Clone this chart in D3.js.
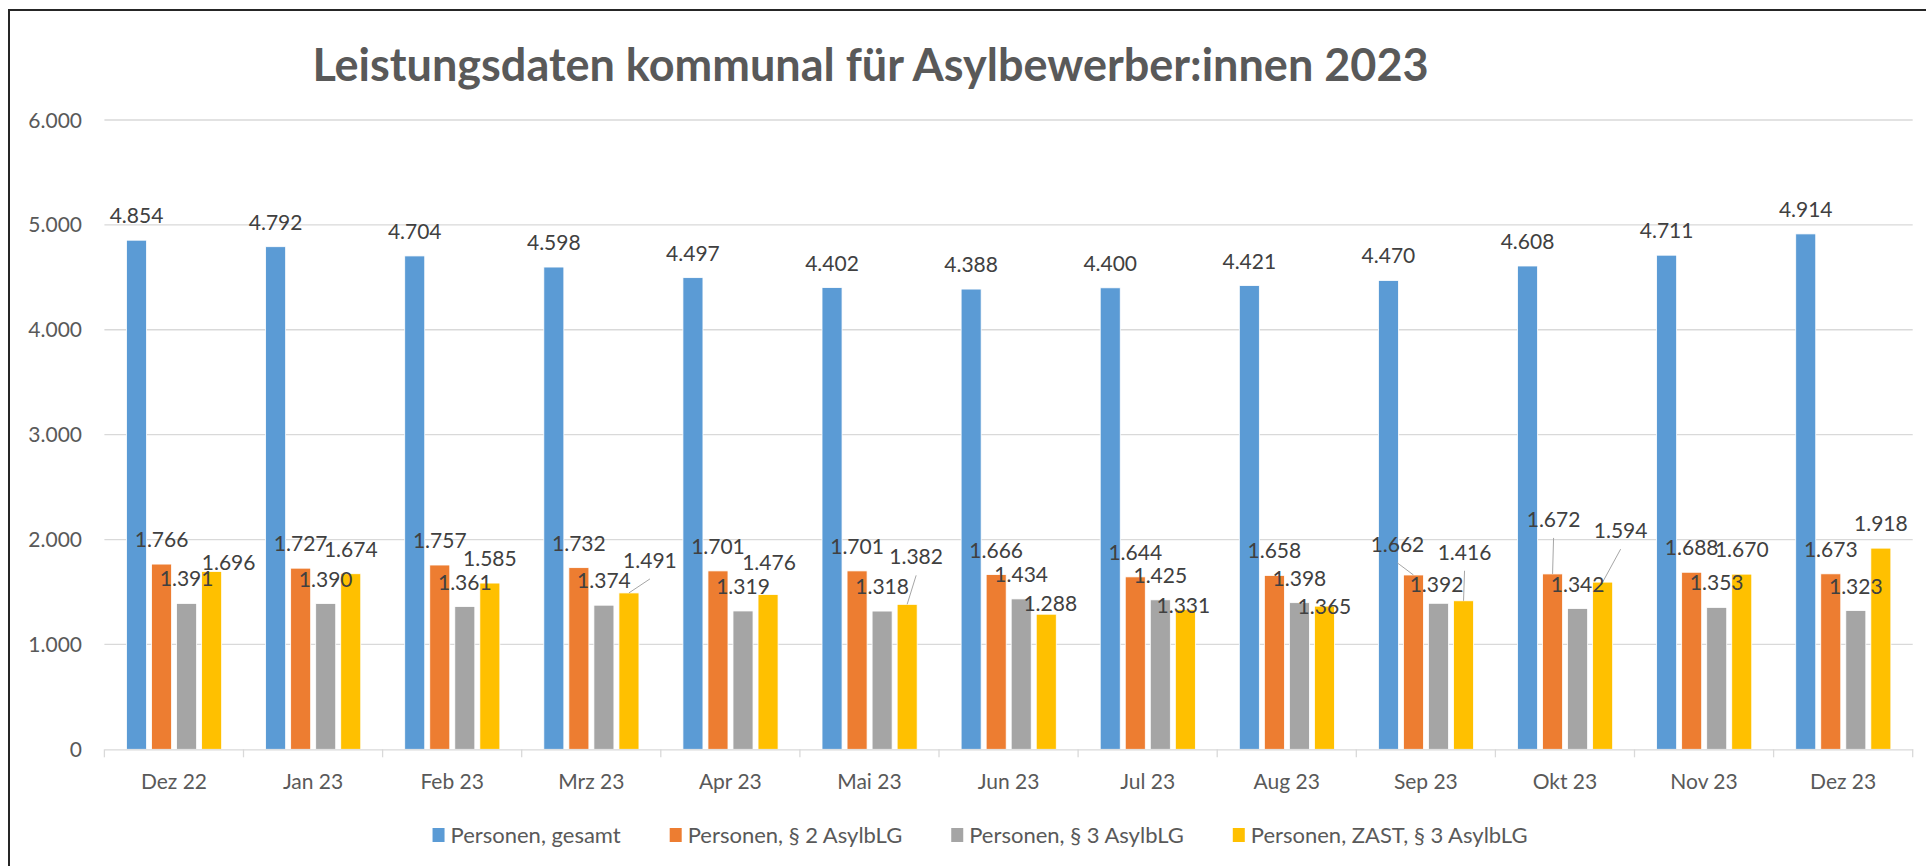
<!DOCTYPE html>
<html lang="de">
	<head>
		<meta charset="utf-8">
		<title>Leistungsdaten kommunal für Asylbewerber:innen 2023</title>
		<style>
		body {
			margin: 0;
			background: #fff;
		}
		svg text {
			font-family: Lato, "Open Sans", sans-serif;
		}
		.grid line {
			stroke: #d9d9d9;
			stroke-width: 1.3px;
		}
		.lbl {
			fill: #404040;
			font-size: 21px;
		}
		.axis-lbl {
			fill: #595959;
			font-size: 21px;
		}
		.leader {
			stroke: #a6a6a6;
			stroke-width: 1px;
		}
		</style>
	</head>
	<body>
		<svg id="chart" width="1926" height="866"></svg>
		<script src="https://d3js.org/d3.v7.min.js"></script>
		<script>

		// data
		var months = ["Dez 22", "Jan 23", "Feb 23", "Mrz 23", "Apr 23", "Mai 23", "Jun 23", "Jul 23", "Aug 23", "Sep 23", "Okt 23", "Nov 23", "Dez 23"];
		var seriesNames = ["Personen, gesamt", "Personen, § 2 AsylbLG", "Personen, § 3 AsylbLG", "Personen, ZAST, § 3 AsylbLG"];
		var gesamt = [4854, 4792, 4704, 4598, 4497, 4402, 4388, 4400, 4421, 4470, 4608, 4711, 4914];
		var par2 = [1766, 1727, 1757, 1732, 1701, 1701, 1666, 1644, 1658, 1662, 1672, 1688, 1673];
		var par3 = [1391, 1390, 1361, 1374, 1319, 1318, 1434, 1425, 1398, 1392, 1342, 1353, 1323];
		var zast = [1696, 1674, 1585, 1491, 1476, 1382, 1288, 1331, 1365, 1416, 1594, 1670, 1918];
		var yTicks = [0, 1000, 2000, 3000, 4000, 5000, 6000];

		var colors = ["#5b9bd5", "#ed7d31", "#a5a5a5", "#ffc000"];

		// labels that were dragged away from their default place (series, month, dx, dy, leader)
		var labelShift = [
			[3, 0, 17, 16, false],
			[3, 3, 21, -8, true],
			[3, 4, 1, -7, false],
			[3, 5, 9, -23, true],
			[3, 6, 4, 14, false],
			[3, 7, -2, 20, false],
			[3, 8, 0, 25, false],
			[1, 9, -16, -6, true],
			[2, 9, -2, 6, false],
			[3, 9, 1, -24, true],
			[1, 10, 1, -30, true],
			[3, 10, 18, -27, true]
		];

		var allSeries = [gesamt, par2, par3, zast];

		var svg = d3.select("#chart");

		var de = d3.formatLocale({decimal: ",", thousands: ".", grouping: [3], currency: ["", " €"]});
		var fmt = de.format(",d");

		var x0 = d3.scaleBand()
			.domain(months)
			.range([104.4, 1912.7])
			.padding(0);

		var bw = x0.bandwidth();
		var x1 = d3.scaleBand()
			.domain(d3.range(seriesNames.length))
			.range([bw * 0.159, bw * 0.843])
			.paddingInner(0.2)
			.paddingOuter(0);

		var y = d3.scaleLinear()
			.domain([0, 6000])
			.range([749.3, 120]);

		// outer frame
		svg.append("rect")
			.attr("x", 9).attr("y", 10)
			.attr("width", 1940).attr("height", 900)
			.attr("fill", "none")
			.attr("stroke", "#262626")
			.attr("stroke-width", 2);

		// title
		svg.append("text")
			.attr("x", 870.5)
			.attr("y", 81)
			.attr("text-anchor", "middle")
			.attr("fill", "#595959")
			.style("font-size", "45px")
			.style("font-weight", "bold")
			.text("Leistungsdaten kommunal für Asylbewerber:innen 2023");

		// gridlines
		svg.append("g")
			.attr("class", "grid")
			.selectAll("line")
			.data(yTicks.filter(function(t) { return t > 0; }))
			.enter().append("line")
			.attr("x1", x0.range()[0])
			.attr("x2", x0.range()[1])
			.attr("y1", function(d) { return y(d); })
			.attr("y2", function(d) { return y(d); });

		// y axis labels
		svg.append("g")
			.selectAll("text")
			.data(yTicks)
			.enter().append("text")
			.attr("class", "axis-lbl")
			.attr("x", 82)
			.attr("y", function(d) { return y(d); })
			.attr("dy", "0.36em")
			.attr("text-anchor", "end")
			.text(function(d) { return fmt(d); });

		// bars
		var groups = svg.append("g")
			.selectAll("g")
			.data(months)
			.enter().append("g")
			.attr("transform", function(d) { return "translate(" + x0(d) + ",0)"; });

		groups.selectAll("rect")
			.data(function(m, i) { return allSeries.map(function(s, k) { return {k: k, v: s[i]}; }); })
			.enter().append("rect")
			.attr("x", function(d) { return x1(d.k); })
			.attr("width", x1.bandwidth())
			.attr("y", function(d) { return y(d.v); })
			.attr("height", function(d) { return y(0) - y(d.v); })
			.attr("fill", function(d) { return colors[d.k]; })
			.attr("stroke", "#fff")
			.attr("stroke-width", 0.8);

		// x axis line + ticks
		var xAxis = svg.append("g")
			.attr("transform", "translate(0," + y(0) + ")")
			.call(d3.axisBottom(x0).tickSize(0).tickFormat(""));
		xAxis.select(".domain").attr("stroke", "#d9d9d9").attr("stroke-width", 1.3);
		xAxis.selectAll(".sep")
			.data(months.concat(["end"]))
			.enter().append("line")
			.attr("class", "sep")
			.attr("x1", function(d, i) { return x0.range()[0] + i * bw; })
			.attr("x2", function(d, i) { return x0.range()[0] + i * bw; })
			.attr("y1", 0)
			.attr("y2", 8)
			.attr("stroke", "#d9d9d9")
			.attr("stroke-width", 1.3);

		svg.append("g")
			.selectAll("text")
			.data(months)
			.enter().append("text")
			.attr("class", "axis-lbl")
			.attr("x", function(d) { return x0(d) + bw / 2; })
			.attr("y", 789)
			.attr("text-anchor", "middle")
			.text(function(d) { return d; });

		// data labels
		var labels = [];
		allSeries.forEach(function(s, k) {
			s.forEach(function(v, i) {
				var cx = x0(months[i]) + x1(k) + x1.bandwidth() / 2;
				var top = y(v);
				labels.push({k: k, i: i, v: v, barX: cx, barTop: top, x: cx, y: top - 17, leader: false});
			});
		});
		labelShift.forEach(function(s) {
			var l = labels.find(function(d) { return d.k === s[0] && d.i === s[1]; });
			l.x += s[2];
			l.y += s[3];
			l.leader = s[4];
		});

		svg.append("g")
			.selectAll("line")
			.data(labels.filter(function(d) { return d.leader; }))
			.enter().append("line")
			.attr("class", "leader")
			.attr("x1", function(d) { return d.x; })
			.attr("y1", function(d) { return d.y + 11; })
			.attr("x2", function(d) { return d.barX; })
			.attr("y2", function(d) { return d.barTop; });

		svg.append("g")
			.selectAll("text")
			.data(labels)
			.enter().append("text")
			.attr("class", "lbl")
			.attr("x", function(d) { return d.x; })
			.attr("y", function(d) { return d.y; })
			.attr("text-anchor", "middle")
			.text(function(d) { return fmt(d.v); });

		// legend, centred under the plot
		var legend = svg.append("g").attr("transform", "translate(0,835)");
		var items = legend.selectAll("g")
			.data(seriesNames)
			.enter().append("g");
		items.append("rect")
			.attr("y", -7)
			.attr("width", 12)
			.attr("height", 14)
			.attr("fill", function(d, i) { return colors[i]; });
		items.append("text")
			.attr("class", "axis-lbl")
			.style("font-size", "22px")
			.attr("x", 18)
			.attr("dy", "0.35em")
			.text(function(d) { return d; });

		var pos = 0, widths = [];
		items.each(function() {
			widths.push(18 + d3.select(this).select("text").node().getComputedTextLength());
		});
		var total = d3.sum(widths) + 49 * (widths.length - 1);
		pos = 980 - total / 2;
		items.attr("transform", function(d, i) {
			var p = pos;
			pos += widths[i] + 49;
			return "translate(" + p + ",0)";
		});

		</script>
	</body>
</html>
